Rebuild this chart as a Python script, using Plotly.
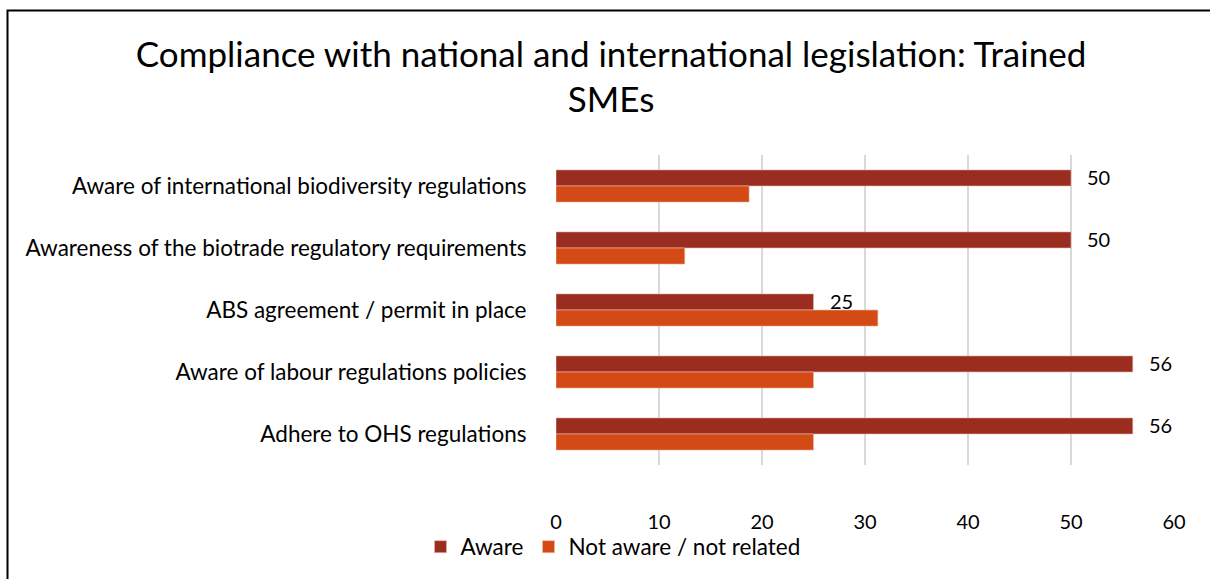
import plotly.graph_objects as go

categories = [
    "Aware of international biodiversity regulations",
    "Awareness of the biotrade regulatory requirements",
    "ABS agreement / permit in place",
    "Aware of labour regulations policies",
    "Adhere to OHS regulations",
]
aware = [50, 50, 25, 56, 56]
not_aware = [18.75, 12.5, 31.25, 25, 25]
x_ticks = [0, 10, 20, 30, 40, 50, 60]

FONT = "Lato"
AWARE_COLOR = "#9b2d20"
NOT_AWARE_COLOR = "#d44a17"

# plot-area geometry (pixels)
W, H = 1210, 579
ML, MR, MT, MB = 556, 36, 155, 114
PW, PH = W - ML - MR, H - MT - MB

fig = go.Figure()
fig.add_trace(go.Bar(
    y=categories, x=aware, orientation="h", name="Aware",
    marker=dict(color=AWARE_COLOR, line=dict(color="#e8b8b0", width=0.6)),
))
fig.add_trace(go.Bar(
    y=categories, x=not_aware, orientation="h", name="Not aware / not related",
    marker=dict(color=NOT_AWARE_COLOR, line=dict(color="#f0b8a0", width=0.6)),
))

# value labels to the right of the "Aware" bars
annotations = [
    dict(x=v, y=c, xref="x", yref="y", text=str(v), showarrow=False,
         xanchor="left", yanchor="middle", xshift=14, yshift=9,
         font=dict(family=FONT, size=20, color="#000000"))
    for c, v in zip(categories, aware)
]

fig.update_layout(
    width=W, height=H,
    paper_bgcolor="white", plot_bgcolor="white",
    margin=dict(l=ML, r=MR, t=MT, b=MB, autoexpand=False),
    barmode="group", bargap=0.48, bargroupgap=0,
    title=dict(
        text="Compliance with national and international legislation: Trained<br>SMEs",
        x=0.505, xanchor="center", y=0.885, yanchor="top",
        font=dict(family=FONT, size=35, color="#000000"),
    ),
    font=dict(family=FONT, size=20, color="#000000"),
    xaxis=dict(
        range=[0, 60], tickvals=x_ticks, ticktext=[str(t) for t in x_ticks],
        showgrid=True, gridcolor="#d9d9d9", gridwidth=2,
        zeroline=False, showline=False, automargin=False,
        ticks="outside", ticklen=39, tickcolor="rgba(0,0,0,0)",
        tickfont=dict(family=FONT, size=20, color="#000000"),
    ),
    yaxis=dict(
        autorange="reversed", showgrid=False, zeroline=False, showline=False,
        automargin=False,
        ticks="outside", ticklen=24, tickcolor="rgba(0,0,0,0)",
        tickfont=dict(family=FONT, size=22.5, color="#000000"),
    ),
    showlegend=True,
    legend=dict(
        orientation="h", xref="paper", yref="paper",
        x=(613 - ML) / PW, xanchor="center",
        y=-(547 - (MT + PH)) / PH, yanchor="middle",
        bgcolor="rgba(0,0,0,0)",
        font=dict(family=FONT, size=22.5, color="#000000"),
        itemwidth=30,
    ),
    annotations=annotations,
    shapes=[dict(
        type="rect", xref="paper", yref="paper",
        x0=-(ML - 7.5) / PW, x1=(W - ML + 20) / PW,
        y0=-(MB + 20) / PH, y1=(MT - 10.5) / PH + 1,
        line=dict(color="#000000", width=2), layer="below",
    )],
)

fig.write_html("out.html")
